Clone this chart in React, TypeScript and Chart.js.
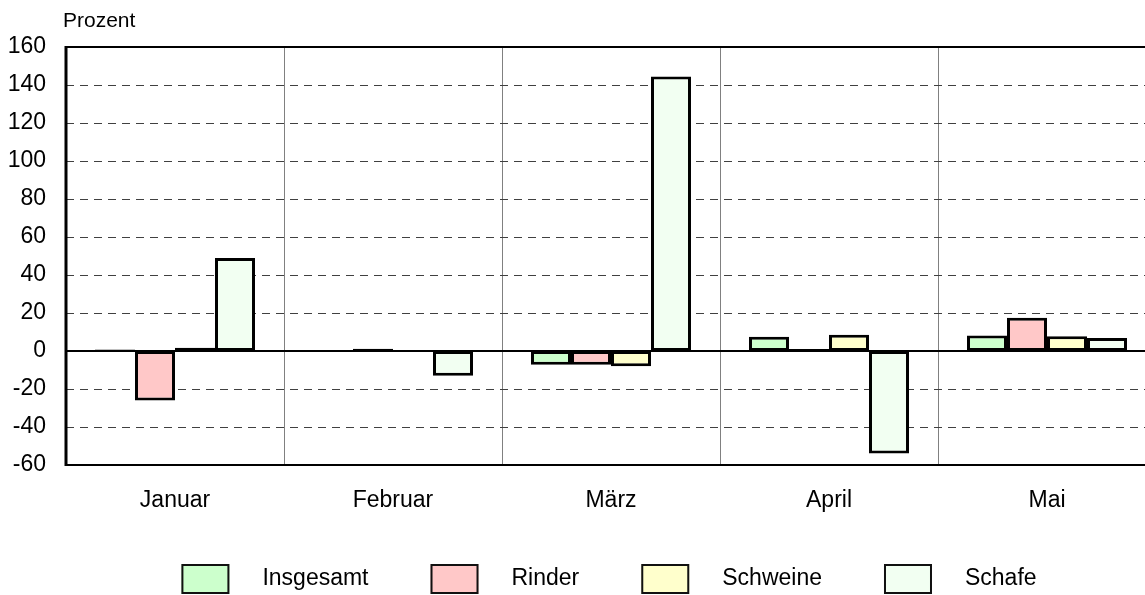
import React, { useEffect, useRef } from "react";
import { Chart, registerables } from "chart.js";

Chart.register(...registerables);

const categories = ["Januar", "Februar", "März", "April", "Mai"];
const seriesNames = ["Insgesamt", "Rinder", "Schweine", "Schafe"];
const insgesamt = [0.8, -0.3, -7.2, 7.5, 8.2];
const rinder = [-26, 1.2, -7.2, 1.0, 17.5];
const schweine = [1.7, -0.3, -8, 8.5, 7.8];
const schafe = [49, -13, 144.5, -54, 6.8];
const seriesColors = ["#ccffcc", "#ffc8c8", "#ffffcc", "#f2fff2"];
const yMin = -60;
const yMax = 160;
const yStep = 20;
const yTitle = "Prozent";

const FONT = "Arial, 'Liberation Sans', Helvetica, sans-serif";

const framePlugin = {
  id: "framePlugin",
  beforeDatasetsDraw(chart: any) {
    const { ctx, chartArea } = chart;
    const y = chart.scales.y;
    ctx.save();
    ctx.strokeStyle = "#404040";
    ctx.lineWidth = 1;
    ctx.setLineDash([8, 6]);
    for (let v = yMin + yStep; v < yMax; v += yStep) {
      if (v === 0) continue;
      const py = Math.round(y.getPixelForValue(v)) + 0.5;
      ctx.beginPath();
      ctx.moveTo(chartArea.left, py);
      ctx.lineTo(chartArea.right, py);
      ctx.stroke();
    }
    ctx.restore();
  },
  afterDatasetsDraw(chart: any) {
    const { ctx, chartArea } = chart;
    const y = chart.scales.y;
    ctx.save();
    ctx.strokeStyle = "#000000";
    ctx.setLineDash([]);
    ctx.lineWidth = 2;
    const z = Math.round(y.getPixelForValue(0));
    ctx.beginPath();
    ctx.moveTo(chartArea.left, z);
    ctx.lineTo(chartArea.right, z);
    ctx.stroke();
    ctx.beginPath();
    ctx.moveTo(chartArea.right, chartArea.top);
    ctx.lineTo(chartArea.left, chartArea.top);
    ctx.moveTo(chartArea.left, chartArea.bottom);
    ctx.lineTo(chartArea.right, chartArea.bottom);
    ctx.stroke();
    ctx.lineWidth = 3;
    ctx.beginPath();
    ctx.moveTo(chartArea.left, chartArea.top - 1);
    ctx.lineTo(chartArea.left, chartArea.bottom + 1);
    ctx.stroke();
    ctx.restore();
  },
  afterDraw(chart: any) {
    const { ctx, chartArea } = chart;
    ctx.save();
    // axis title
    ctx.fillStyle = "#000000";
    ctx.font = `21px ${FONT}`;
    ctx.textBaseline = "middle";
    ctx.textAlign = "left";
    ctx.fillText(yTitle, chartArea.left - 3, chartArea.top - 26);
    // legend
    ctx.font = `23px ${FONT}`;
    const boxW = 48;
    const boxH = 30;
    const gap = 33;
    const spacing = 62;
    const widths = seriesNames.map((n) => ctx.measureText(n).width);
    const total =
      widths.reduce((a, b) => a + b, 0) +
      seriesNames.length * (boxW + gap) +
      (seriesNames.length - 1) * spacing;
    let x = (chartArea.left + chartArea.right) / 2 - total / 2 - 2;
    const cy = chart.height - 16;
    seriesNames.forEach((n, i) => {
      ctx.fillStyle = seriesColors[i];
      ctx.fillRect(x, cy - boxH / 2, boxW, boxH);
      ctx.strokeStyle = "#111111";
      ctx.lineWidth = 2;
      ctx.strokeRect(x + 1, cy - boxH / 2 + 1, boxW - 2, boxH - 2);
      ctx.fillStyle = "#000000";
      ctx.fillText(n, x + boxW + gap, cy);
      x += boxW + gap + widths[i] + spacing;
    });
    ctx.restore();
  },
};

export default function App() {
  const ref = useRef<HTMLCanvasElement | null>(null);
  useEffect(() => {
    if (!ref.current) return;
    const data = [insgesamt, rinder, schweine, schafe];
    const chart = new Chart(ref.current, {
      type: "bar",
      data: {
        labels: categories,
        datasets: seriesNames.map((name, i) => ({
          label: name,
          data: data[i],
          backgroundColor: seriesColors[i],
          borderColor: "#000000",
          borderWidth: 3,
          borderSkipped: false,
          categoryPercentage: 0.734,
          barPercentage: 1,
        })),
      },
      options: {
        responsive: false,
        animation: false,
        layout: { padding: { top: 47, left: 0, right: 14, bottom: 0 } },
        plugins: {
          legend: { display: false },
          tooltip: { enabled: false },
          title: { display: false },
        },
        scales: {
          x: {
            offset: true,
            grid: {
              offset: true,
              color: "#808080",
              lineWidth: 1,
              drawTicks: false,
            },
            border: { display: false },
            ticks: {
              color: "#000000",
              font: { family: FONT, size: 23 },
              padding: 22,
              maxRotation: 0,
            },
            afterFit: (s: any) => {
              s.height = 130;
            },
          },
          y: {
            min: yMin,
            max: yMax,
            ticks: {
              stepSize: yStep,
              color: "#000000",
              font: { family: FONT, size: 23 },
              padding: 20,
            },
            grid: { display: false, drawTicks: false },
            border: { display: false },
            afterFit: (s: any) => {
              s.width = 66;
            },
          },
        },
      },
      plugins: [framePlugin],
    });
    return () => chart.destroy();
  }, []);
  return (
    <div
      style={{
        position: "fixed",
        left: 0,
        top: 0,
        width: 1145,
        height: 595,
        overflow: "hidden",
        background: "#ffffff",
      }}
    >
      <canvas ref={ref} width={1170} height={595} style={{ display: "block" }} />
    </div>
  );
}
